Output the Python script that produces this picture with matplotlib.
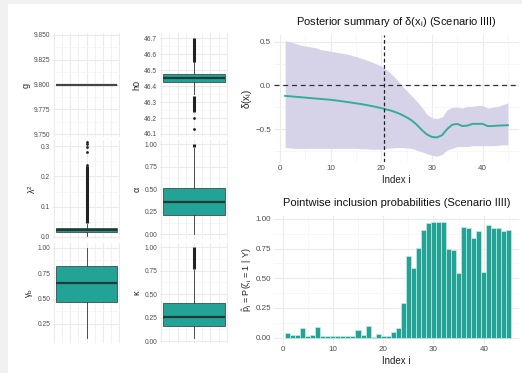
import matplotlib
matplotlib.use("Agg")
import matplotlib.pyplot as plt
from matplotlib.patches import Rectangle
import numpy as np

plt.rcParams["font.family"] = ["Liberation Sans", "DejaVu Sans"]
plt.rcParams["mathtext.fontset"] = "custom"
plt.rcParams["mathtext.rm"] = "Liberation Sans"
plt.rcParams["mathtext.it"] = "Liberation Sans:italic"
plt.rcParams["mathtext.default"] = "regular"

W, H = 522, 373

# ---- data ----
idx = list(range(1, 46))
delta_mean = [-0.12, -0.125, -0.13, -0.135, -0.14, -0.145, -0.15, -0.155, -0.16, -0.165,
              -0.172, -0.18, -0.188, -0.196, -0.205, -0.214, -0.224, -0.235, -0.247, -0.26,
              -0.275, -0.29, -0.31, -0.335, -0.365, -0.40, -0.45, -0.51, -0.56, -0.59,
              -0.595, -0.57, -0.50, -0.45, -0.44, -0.465, -0.46, -0.44, -0.44, -0.44,
              -0.465, -0.465, -0.46, -0.458, -0.455]
delta_hi = [0.51, 0.50, 0.48, 0.46, 0.45, 0.44, 0.43, 0.41, 0.40, 0.39,
            0.38, 0.37, 0.36, 0.345, 0.33, 0.31, 0.29, 0.27, 0.245, 0.22,
            0.18, 0.13, 0.07, 0.0, -0.06, -0.12, -0.18, -0.25, -0.33, -0.37,
            -0.38, -0.36, -0.28, -0.25, -0.25, -0.26, -0.24, -0.24, -0.23, -0.23,
            -0.26, -0.25, -0.24, -0.22, -0.20]
delta_lo = [-0.71, -0.715, -0.72, -0.72, -0.72, -0.72, -0.72, -0.72, -0.72, -0.72,
            -0.72, -0.72, -0.72, -0.72, -0.72, -0.725, -0.725, -0.73, -0.73, -0.73,
            -0.72, -0.715, -0.71, -0.71, -0.715, -0.72, -0.74, -0.76, -0.78, -0.80,
            -0.81, -0.79, -0.74, -0.72, -0.70, -0.70, -0.70, -0.69, -0.69, -0.69,
            -0.69, -0.69, -0.685, -0.68, -0.68]
cut_index = 20.5
incl_prob = [0.04, 0.025, 0.02, 0.085, 0.01, 0.025, 0.09, 0.01, 0.01, 0.01,
             0.01, 0.01, 0.01, 0.01, 0.065, 0.02, 0.095, 0.005, 0.03, 0.015,
             0.01, 0.05, 0.08, 0.29, 0.685, 0.59, 0.755, 0.905, 0.965, 0.97,
             0.975, 0.975, 0.745, 0.735, 0.545, 0.935, 0.925, 0.84, 0.895, 0.555,
             0.945, 0.92, 0.925, 0.90, 0.91]

# boxplot summaries: q1, median, q3, whiskers, sparse fliers, dense flier bands
box_names = ["g", "h0", r"$\lambda^2$", r"$\alpha$", r"$\gamma_b$", r"$\kappa$"]
box_q1 = [9.800, 46.423, 0.0145, 0.21, 0.47, 0.16]
box_med = [9.800, 46.450, 0.022, 0.362, 0.656, 0.254]
box_q3 = [9.800, 46.478, 0.030, 0.515, 0.823, 0.40]
box_wlo = [9.800, 46.35, 0.003, 0.0, 0.11, 0.03]
box_whi = [9.800, 46.55, 0.043, 0.96, 0.995, 0.76]
box_fliers = [[], [46.20, 46.13], [0.238, 0.282, 0.298, 0.307, 0.315], [], [], []]
box_bands = [[], [(46.55, 46.70), (46.235, 46.34)], [(0.045, 0.235)], [(0.965, 1.0)], [], [(0.765, 1.0)]]
box_ticks = [[9.750, 9.775, 9.800, 9.825, 9.850],
             [46.1, 46.2, 46.3, 46.4, 46.5, 46.6, 46.7],
             [0.0, 0.1, 0.2, 0.3],
             [0.0, 0.25, 0.5, 0.75, 1.0],
             [0.25, 0.5, 0.75, 1.0],
             [0.0, 0.25, 0.5, 0.75, 1.0]]
box_fmt = ["{:.3f}", "{:.1f}", "{:.1f}", "{:.2f}", "{:.2f}", "{:.2f}"]
box_ylim = [(9.747, 9.852), (46.081, 46.733), (-0.0077, 0.321),
            (-0.052, 1.048), (0.063, 1.046), (-0.021, 1.043)]

TEAL = "#22a396"
DARK = "#333333"
GRID = "#ebebeb"
GRID_MINOR = "#f4f4f4"
TXT = "#4d4d4d"

fig = plt.figure(figsize=(W / 100, H / 100), dpi=100, facecolor="#f1f1f1")
fig.patches.append(Rectangle((8 / W, 0), 1, 1 - 4 / H, transform=fig.transFigure,
                             facecolor="white", edgecolor="none", zorder=-10))


def px_axes(l, t, r, b):
    return fig.add_axes([l / W, 1 - b / H, (r - l) / W, (b - t) / H])


def minimal(ax, tsize):
    for s in ax.spines.values():
        s.set_visible(False)
    ax.set_facecolor("none")
    ax.tick_params(which="both", length=0, labelsize=tsize, labelcolor=TXT, pad=2)
    ax.grid(True, which="major", color=GRID, lw=0.8)
    ax.grid(True, which="minor", color=GRID_MINOR, lw=0.5)
    ax.set_axisbelow(True)


# ---- left block: boxplots ----
cols = [(53, 120), (160, 228)]
rows = [(33, 137), (140, 239), (243, 343)]
for k in range(6):
    r, c = divmod(k, 2)
    ax = px_axes(cols[c][0], rows[r][0], cols[c][1], rows[r][1])
    stats = [dict(med=box_med[k], q1=box_q1[k], q3=box_q3[k],
                  whislo=box_wlo[k], whishi=box_whi[k], fliers=box_fliers[k])]
    med_col = "#444444" if box_q1[k] == box_q3[k] else "#1f3a37"
    ax.bxp(stats, positions=[0], widths=0.75, patch_artist=True, showcaps=False,
           manage_ticks=False,
           boxprops=dict(facecolor=TEAL, edgecolor="#3c4f4c", lw=0.6),
           medianprops=dict(color=med_col, lw=1.6),
           whiskerprops=dict(color=DARK, lw=0.6),
           flierprops=dict(marker="o", markersize=2, markerfacecolor="#222222",
                           markeredgecolor="none"))
    for lo, hi in box_bands[k]:
        ax.vlines(0, lo, hi, color="#222222", lw=2.2)
    minimal(ax, 4.8)
    ax.set_xlim(-0.4125, 0.4125)
    ax.set_xticks([-0.4, -0.2, 0, 0.2, 0.4])
    ax.set_xticks([-0.3, -0.1, 0.1, 0.3], minor=True)
    ax.set_xticklabels([])
    ax.grid(True, which="minor", axis="x", color=GRID, lw=0.5)
    yt = box_ticks[k]
    ax.set_yticks(yt)
    ax.set_yticklabels([box_fmt[k].format(v) for v in yt])
    ax.set_yticks([(a + b) / 2 for a, b in zip(yt[:-1], yt[1:])], minor=True)
    ax.set_ylim(*box_ylim[k])
    ax.set_ylabel(box_names[k], fontsize=6.5, color="#222222", labelpad=2)

# ---- top right: posterior summary ----
ax1 = px_axes(274, 35, 519, 162)
minimal(ax1, 5.8)
ax1.fill_between(idx, delta_lo, delta_hi, color="#d6d3e9", lw=0)
ax1.plot(idx, delta_mean, color="#35ac9b", lw=1.4)
ax1.axhline(0, color="#333333", ls=(0, (4, 3)), lw=0.9)
ax1.axvline(cut_index, color="#222222", ls=(0, (3, 2)), lw=0.9)
ax1.set_xlim(-1.2, 47.2)
ax1.set_ylim(-0.876, 0.576)
ax1.set_xticks([0, 10, 20, 30, 40])
ax1.set_xticks([5, 15, 25, 35, 45], minor=True)
ax1.set_yticks([-0.5, 0.0, 0.5])
ax1.set_yticks([-0.75, -0.25, 0.25], minor=True)
ax1.set_xlabel("Index i", fontsize=7, color="#222222", labelpad=2)
ax1.set_ylabel(r"$\delta(x_i)$", fontsize=7, color="#222222", labelpad=1)
ax1.set_title(r"Posterior summary of $\delta(x_i)$ (Scenario IIII)",
              fontsize=8, color="#111111", pad=7)

# ---- bottom right: inclusion probabilities ----
ax2 = px_axes(274, 216, 519, 343.5)
minimal(ax2, 5.8)
ax2.bar(idx, incl_prob, width=1.0, color=TEAL, edgecolor="#cde9e5", lw=0.5)
ax2.set_xlim(-1.7, 47.0)
ax2.set_ylim(-0.049, 1.024)
ax2.set_xticks([0, 10, 20, 30, 40])
ax2.set_xticks([5, 15, 25, 35, 45], minor=True)
ax2.set_yticks([0, 0.25, 0.5, 0.75, 1.0])
ax2.set_yticklabels(["0.00", "0.25", "0.50", "0.75", "1.00"])
ax2.set_yticks([0.125, 0.375, 0.625, 0.875], minor=True)
ax2.set_xlabel("Index i", fontsize=7, color="#222222", labelpad=2)
ax2.set_ylabel(r"$\hat{p}_i$ = P($\zeta_i$ = 1 | Y)", fontsize=6.5, color="#222222", labelpad=1)
ax2.set_title("Pointwise inclusion probabilities (Scenario IIII)",
              fontsize=8, color="#111111", pad=7)

fig.savefig("out.png", dpi=100, facecolor=fig.get_facecolor())
